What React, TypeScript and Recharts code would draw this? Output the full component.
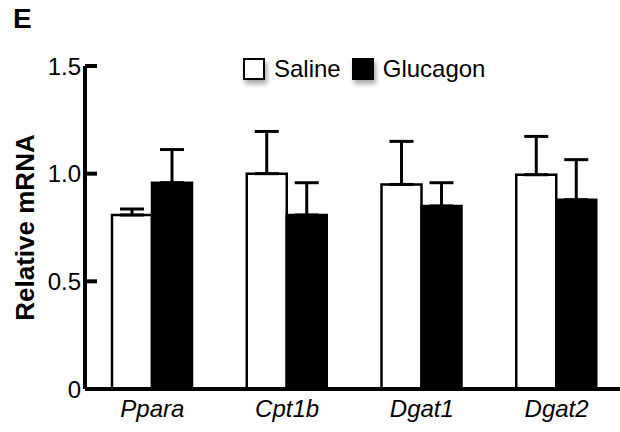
import React from 'react';
import { BarChart, Bar, XAxis, YAxis, ErrorBar, Legend } from 'recharts';

const GENES = ['Ppara', 'Cpt1b', 'Dgat1', 'Dgat2'];
const SALINE = [0.808, 1.0, 0.95, 0.995];
const SALINE_ERR = [0.028, 0.196, 0.2, 0.178];
const GLUCAGON = [0.958, 0.808, 0.85, 0.879];
const GLUCAGON_ERR = [0.154, 0.15, 0.108, 0.186];
const SERIES = ['Saline', 'Glucagon'];
const Y_TICKS = [0, 0.5, 1, 1.5];

const FONT = '"Liberation Sans", Arial, sans-serif';

const data = GENES.map((gene, i) => ({
  gene,
  saline: SALINE[i],
  salineErr: [0, SALINE_ERR[i]],
  glucagon: GLUCAGON[i],
  glucagonErr: [0, GLUCAGON_ERR[i]],
}));

const YTick = (props: any) => {
  const { x, y, payload } = props;
  const v = payload.value;
  return (
    <g>
      <line x1={x} x2={x + 12} y1={y} y2={y} stroke="#000" strokeWidth={4} />
      <text x={x - 4} y={y} dy="0.36em" textAnchor="end" fontSize={24} fontFamily={FONT} fill="#000">
        {v === 0 ? '0' : v.toFixed(1)}
      </text>
    </g>
  );
};

const XTick = (props: any) => {
  const { x, y, payload } = props;
  return (
    <text x={x} y={y + 28} textAnchor="middle" fontSize={24} fontStyle="italic" fontFamily={FONT} fill="#000">
      {payload.value}
    </text>
  );
};

const YLabel = (props: any) => {
  const { viewBox } = props;
  const cx = viewBox.x + 34;
  const cy = viewBox.y + viewBox.height / 2;
  return (
    <text x={cx} y={cy} transform={`rotate(-90, ${cx}, ${cy})`} textAnchor="middle" fontSize={26} fontWeight="bold" fontFamily={FONT} fill="#000">
      Relative mRNA
    </text>
  );
};

const renderLegend = (props: any) => {
  const items = [...props.payload].sort((a: any, b: any) => SERIES.indexOf(a.value) - SERIES.indexOf(b.value));
  return (
    <div style={{ display: 'flex', alignItems: 'center', fontFamily: FONT, fontSize: 24, color: '#000' }}>
      {items.map((entry: any, i: number) => (
        <div key={entry.value} style={{ display: 'flex', alignItems: 'center', marginRight: i === 0 ? 11 : 0 }}>
          <div
            style={{
              width: 18,
              height: 18,
              background: entry.value === 'Saline' ? '#fff' : '#000',
              border: '2px solid #000',
              boxShadow: '2px 4px 5px rgba(0,0,0,0.35)',
              marginRight: 9,
            }}
          />
          <span>{entry.value}</span>
        </div>
      ))}
    </div>
  );
};

const App: React.FC = () => {
  return (
    <div style={{ position: 'absolute', left: 0, top: 0, width: 620, height: 432, overflow: 'hidden', background: '#fff' }}>
      <div style={{ position: 'absolute', left: 13, top: 3, fontFamily: FONT, fontWeight: 'bold', fontSize: 28 }}>E</div>
      <BarChart width={625} height={432} data={data} margin={{ top: 66, right: 1, left: 0, bottom: 13 }} barGap={0} barSize={40}>
        <XAxis
          dataKey="gene"
          height={30}
          axisLine={{ stroke: '#000', strokeWidth: 4 }}
          tickLine={false}
          tickSize={0}
          tickMargin={0}
          tick={<XTick />}
          interval={0}
        />
        <YAxis
          width={85}
          domain={[0, 1.5]}
          ticks={Y_TICKS}
          axisLine={{ stroke: '#000', strokeWidth: 4 }}
          tickLine={false}
          tickSize={0}
          tickMargin={0}
          tick={<YTick />}
          label={<YLabel />}
        />
        <Legend
          layout="horizontal"
          verticalAlign="middle"
          align="center"
          content={renderLegend}
          wrapperStyle={{ left: 243, top: 55, width: 'auto', height: 'auto' }}
        />
        <Bar dataKey="saline" name="Saline" fill="#fff" stroke="#000" strokeWidth={2.5} isAnimationActive={false}>
          <ErrorBar dataKey="salineErr" width={12} stroke="#000" strokeWidth={3} direction="y" isAnimationActive={false} />
        </Bar>
        <Bar dataKey="glucagon" name="Glucagon" fill="#000" stroke="#000" strokeWidth={2.5} isAnimationActive={false}>
          <ErrorBar dataKey="glucagonErr" width={12} stroke="#000" strokeWidth={3} direction="y" isAnimationActive={false} />
        </Bar>
      </BarChart>
    </div>
  );
};

export default App;
